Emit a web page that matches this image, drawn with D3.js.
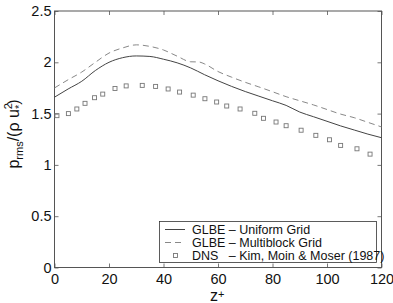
<!DOCTYPE html>
<html>
<head>
<meta charset="utf-8">
<script src="https://cdn.jsdelivr.net/npm/d3@7"></script>
<style>
  body { margin: 0; background: #fff; }
  svg { display: block; font-family: "Liberation Sans", Arial, Helvetica, sans-serif; }
</style>
</head>
<body>
<div id="chart"></div>
<script>
// z+ positions and values
var uniformZ = [0, 5, 10, 15, 20, 25, 30, 35, 40, 45, 50, 55, 60, 65, 70, 75, 80, 85, 90, 95, 100, 105, 110, 115, 120];
var uniformP = [1.66, 1.74, 1.815, 1.92, 2.0, 2.045, 2.062, 2.057, 2.03, 1.995, 1.945, 1.88, 1.82, 1.765, 1.715, 1.67, 1.625, 1.58, 1.515, 1.47, 1.425, 1.38, 1.34, 1.30, 1.265];

var multiZ = [0, 5, 10, 15, 20, 25, 30, 35, 40, 45, 50, 53, 55, 60, 65, 70, 75, 80, 85, 90, 95, 100, 105, 110, 115, 120];
var multiP = [1.75, 1.83, 1.905, 2.0, 2.09, 2.14, 2.17, 2.155, 2.12, 2.06, 2.005, 2.003, 1.985, 1.91, 1.855, 1.805, 1.76, 1.713, 1.665, 1.625, 1.585, 1.54, 1.495, 1.46, 1.415, 1.37];

var dnsZ = [0.9, 5.1, 8.2, 11.2, 14.7, 17.7, 22.2, 26.3, 32.2, 37.1, 41.7, 45.9, 50.9, 55.2, 59.5, 63.2, 68.1, 73.5, 76.7, 81.3, 85.0, 90.5, 95.9, 100.9, 105.0, 111.0, 115.8];
var dnsP = [1.48, 1.50, 1.545, 1.60, 1.655, 1.69, 1.745, 1.77, 1.775, 1.765, 1.74, 1.71, 1.68, 1.645, 1.613, 1.574, 1.545, 1.503, 1.454, 1.418, 1.382, 1.338, 1.288, 1.245, 1.19, 1.157, 1.105];

var xTicks = [0, 20, 40, 60, 80, 100, 120];
var yTicks = [0, 0.5, 1, 1.5, 2, 2.5];
var legendLabels = ["GLBE \u2013 Uniform Grid", "GLBE \u2013 Multiblock Grid", "DNS   \u2013 Kim, Moin & Moser (1987)"];

var width = 393, height = 303;
var margin = {left: 54.5, right: 11.5, top: 11, bottom: 35.5};

var svg = d3.select("#chart").append("svg")
	.attr("width", width)
	.attr("height", height);

var x = d3.scaleLinear().domain([0, 120]).range([margin.left, width - margin.right]);
var y = d3.scaleLinear().domain([0, 2.5]).range([height - margin.bottom, margin.top]);

var axisColor = "#555";

// Axes with inward ticks on all four sides
function styleAxis(g){
	g.select(".domain").remove();
	g.selectAll(".tick line").attr("stroke", axisColor).attr("stroke-width", 0.8);
	g.selectAll(".tick text").attr("fill", "#111").style("font-size", "14.5px");
}

svg.append("g")
	.attr("transform", "translate(0," + y(0) + ")")
	.call(d3.axisBottom(x).tickValues(xTicks).tickSizeInner(-4).tickPadding(6).tickFormat(d3.format("d")))
	.call(styleAxis);

svg.append("g")
	.attr("transform", "translate(0," + y(2.5) + ")")
	.call(d3.axisTop(x).tickValues(xTicks).tickSizeInner(-4).tickFormat(""))
	.call(styleAxis);

svg.append("g")
	.attr("transform", "translate(" + x(0) + ",0)")
	.call(d3.axisLeft(y).tickValues(yTicks).tickSizeInner(-4).tickPadding(3).tickFormat(d => String(d)))
	.call(styleAxis);

svg.append("g")
	.attr("transform", "translate(" + x(120) + ",0)")
	.call(d3.axisRight(y).tickValues(yTicks).tickSizeInner(-4).tickFormat(""))
	.call(styleAxis);

svg.append("rect")
	.attr("x", x(0))
	.attr("y", y(2.5))
	.attr("width", x(120) - x(0))
	.attr("height", y(0) - y(2.5))
	.attr("fill", "none")
	.attr("stroke", axisColor)
	.attr("stroke-width", 1);

// Curves
var line = d3.line()
	.x(d => x(d[0]))
	.y(d => y(d[1]))
	.curve(d3.curveMonotoneX);

svg.append("path")
	.datum(d3.zip(uniformZ, uniformP))
	.attr("d", line)
	.attr("fill", "none")
	.attr("stroke", "#444")
	.attr("stroke-width", 1);

svg.append("path")
	.datum(d3.zip(multiZ, multiP))
	.attr("d", line)
	.attr("fill", "none")
	.attr("stroke", "#888")
	.attr("stroke-width", 1)
	.attr("stroke-dasharray", "6,4");

svg.selectAll("rect.dns")
	.data(d3.zip(dnsZ, dnsP))
	.enter()
	.append("rect")
	.attr("class", "dns")
	.attr("x", d => x(d[0]) - 2)
	.attr("y", d => y(d[1]) - 2)
	.attr("width", 4)
	.attr("height", 4)
	.attr("fill", "none")
	.attr("stroke", "#777")
	.attr("stroke-width", 0.9);

// Axis labels
var xl = svg.append("text")
	.attr("x", 210)
	.attr("y", 301)
	.attr("fill", "#111")
	.style("font-size", "16px")
	.text("z");
xl.append("tspan")
	.attr("dy", -3)
	.style("font-size", "11px")
	.text("+");

var yl = svg.append("text")
	.attr("transform", "translate(19,134) rotate(-90)")
	.attr("text-anchor", "middle")
	.attr("fill", "#111")
	.style("font-size", "16px")
	.text("p");
yl.append("tspan").attr("dy", 4).style("font-size", "11px").text("rms");
yl.append("tspan").attr("dy", -4).text("/(\u03c1 u");
yl.append("tspan").attr("dy", -7).style("font-size", "11px").text("2");
yl.append("tspan").attr("dx", -6).attr("dy", 11).style("font-size", "11px").text("*");
yl.append("tspan").attr("dy", -4).text(")");

// Legend
var lx = 159.5, ly = 221.5, lw = 217, lh = 41;
var legend = svg.append("g").attr("class", "legend");

legend.append("rect")
	.attr("x", lx)
	.attr("y", ly)
	.attr("width", lw)
	.attr("height", lh)
	.attr("fill", "#fff")
	.attr("stroke", "#333")
	.attr("stroke-width", 0.8);

var rowY = [229.5, 242.5, 255.5];

legend.append("line")
	.attr("x1", 165).attr("x2", 185)
	.attr("y1", rowY[0]).attr("y2", rowY[0])
	.attr("stroke", "#444").attr("stroke-width", 1);

legend.append("line")
	.attr("x1", 165).attr("x2", 185)
	.attr("y1", rowY[1]).attr("y2", rowY[1])
	.attr("stroke", "#888").attr("stroke-width", 1)
	.attr("stroke-dasharray", "6,4");

legend.append("rect")
	.attr("x", 173.5).attr("y", rowY[2] - 2)
	.attr("width", 4).attr("height", 4)
	.attr("fill", "none").attr("stroke", "#777").attr("stroke-width", 0.9);

legend.selectAll("text")
	.data(legendLabels)
	.enter()
	.append("text")
	.attr("x", 192)
	.attr("y", (d, i) => rowY[i] + 4.5)
	.attr("fill", "#111")
	.style("font-size", "12.5px")
	.style("white-space", "pre")
	.attr("xml:space", "preserve")
	.text(d => d);
</script>
</body>
</html>
